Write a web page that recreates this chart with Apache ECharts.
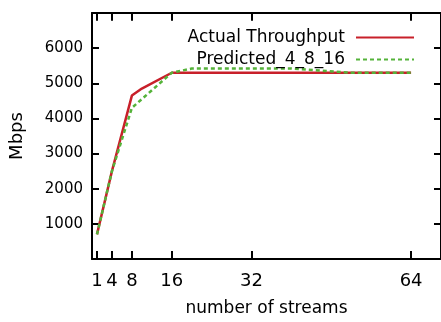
<!DOCTYPE html>
<html>
<head>
<meta charset="utf-8">
<script src="https://cdn.jsdelivr.net/npm/echarts@6/dist/echarts.min.js"></script>
<style>
html,body{margin:0;padding:0;background:#fff;}
#c{width:441px;height:322px;}
</style>
</head>
<body>
<div id="c"></div>
<script>
var xTicks = [1, 4, 8, 16, 32, 64];
var yTicks = [1000, 2000, 3000, 4000, 5000, 6000];
var actualX = [1, 4, 8, 10, 16, 24, 32, 48, 64];
var actualY = [700, 2500, 4650, 4850, 5300, 5300, 5300, 5300, 5300];
var predX = [1, 4, 8, 16, 20, 40, 52, 64];
var predY = [700, 2500, 4300, 5300, 5420, 5420, 5300, 5300];
var seriesNames = ['Actual Throughput', 'Predicted_4_8_16'];
var yMax = 7000;
var topTickLen = 220; // in data units (mirror ticks on the top border)

function pairs(xs, ys) { return xs.map(function (x, i) { return [x, ys[i]]; }); }

var FONT = 'DejaVu Sans';
var chart = echarts.init(document.getElementById('c'), null, {renderer: 'canvas'});
var axisLine = {show: true, onZero: false, lineStyle: {color: '#000', width: 2}};
var tickStyle = {color: '#000', width: 2};
var topTicks = xTicks.map(function (x) {
  return [{coord: [x, yMax]}, {coord: [x, yMax - topTickLen]}];
});
chart.setOption({
  animation: false,
  backgroundColor: '#fff',
  grid: {left: 92, right: -1, top: 13, bottom: 61, containLabel: false},
  legend: {
    orient: 'vertical', right: 21, top: 24, align: 'right',
    itemWidth: 58, itemHeight: 14, itemGap: 5,
    itemStyle: {opacity: 0},
    textStyle: {fontFamily: FONT, fontSize: 17, color: '#000', padding: [0, 6, 0, 0]},
    data: seriesNames
  },
  xAxis: [{
    type: 'value', min: 0, max: 70, position: 'bottom', gridIndex: 0,
    name: 'number of streams', nameLocation: 'middle', nameGap: 41,
    nameTextStyle: {fontFamily: FONT, fontSize: 17, color: '#000'},
    axisLine: axisLine,
    axisTick: {inside: true, length: 8, customValues: xTicks, lineStyle: tickStyle},
    axisLabel: {customValues: xTicks, margin: 13, fontFamily: FONT, fontSize: 18, color: '#000',
      formatter: function (v) { return String(v); }},
    splitLine: {show: false}
  }, {
    type: 'value', min: 0, max: 70, position: 'top', gridIndex: 0,
    axisLine: axisLine,
    axisTick: {show: false},
    axisLabel: {show: false},
    splitLine: {show: false}
  }],
  yAxis: [{
    type: 'value', min: 0, max: yMax, interval: 1000, position: 'left',
    name: 'Mbps', nameLocation: 'middle', nameGap: 66, nameRotate: 90,
    nameTextStyle: {fontFamily: FONT, fontSize: 18, color: '#000'},
    axisLine: axisLine,
    axisTick: {inside: true, length: 7, customValues: yTicks, lineStyle: tickStyle},
    axisLabel: {customValues: yTicks, margin: 9, fontFamily: FONT, fontSize: 15, color: '#000',
      formatter: function (v) { return String(v); }},
    splitLine: {show: false}
  }, {
    type: 'value', min: 0, max: yMax, interval: 1000, position: 'right',
    axisLine: axisLine,
    axisTick: {inside: true, length: 7, customValues: yTicks, lineStyle: tickStyle},
    axisLabel: {show: false},
    splitLine: {show: false}
  }],
  series: [{
    name: seriesNames[0], type: 'line', data: pairs(actualX, actualY),
    symbol: 'none', color: '#c8202a',
    lineStyle: {color: '#c8202a', width: 2.5},
    markLine: {
      silent: true, symbol: ['none', 'none'], label: {show: false},
      lineStyle: {color: '#000', width: 2, type: 'solid'},
      data: topTicks
    }
  }, {
    name: seriesNames[1], type: 'line', data: pairs(predX, predY),
    xAxisIndex: 1, yAxisIndex: 1,
    symbol: 'none', color: '#55b33a',
    lineStyle: {color: '#55b33a', width: 2.5, type: [4, 3]}
  }]
});
</script>
</body>
</html>
